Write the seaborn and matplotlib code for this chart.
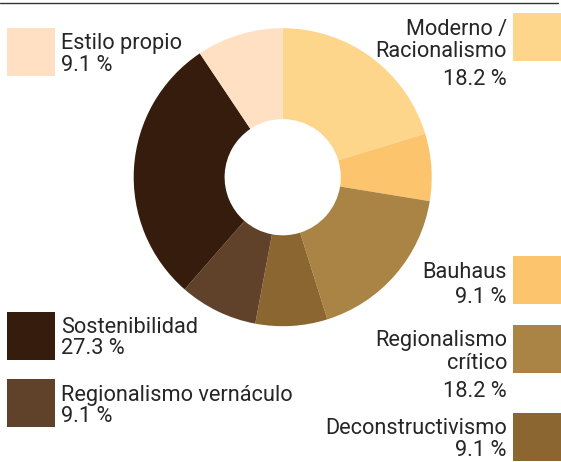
import matplotlib
matplotlib.use("Agg")
import matplotlib.pyplot as plt
import seaborn as sns
from matplotlib.patches import Rectangle
from matplotlib.lines import Line2D

# ---- data ----
categories = ["Moderno /\nRacionalismo", "Bauhaus", "Regionalismo\ncrítico",
              "Deconstructivismo", "Regionalismo vernáculo", "Sostenibilidad",
              "Estilo propio"]
slice_shares = [20.3, 7.3, 17.6, 7.8, 8.5, 29.2, 9.4]
pct_labels = ["18.2 %", "9.1 %", "18.2 %", "9.1 %", "9.1 %", "27.3 %", "9.1 %"]
colors = ["#FDD68C", "#FDC46E", "#A98445", "#8B6631", "#5F4229", "#361C0C", "#FFE0C2"]

sns.set_theme(style="white")
plt.rcParams["font.family"] = ["Roboto", "DejaVu Sans"]

W, H = 561, 462
fig = plt.figure(figsize=(W / 100, H / 100), dpi=100)
fig.patch.set_facecolor("white")


def fx(x):
    return x / W


def fy(y):
    return 1 - y / H


# donut
cx, cy, R = 282.7, 177.2, 149
ax = fig.add_axes([(cx - R) / W, 1 - (cy + R) / H, 2 * R / W, 2 * R / H])
palette = sns.color_palette(colors)
ax.pie(slice_shares, colors=palette, startangle=90, counterclock=False, radius=1,
       wedgeprops=dict(width=0.61, linewidth=0))
ax.set_xlim(-1, 1)
ax.set_ylim(-1, 1)
ax.axis("off")

# top rule
fig.add_artist(Line2D([fx(0), fx(558)], [fy(2.7), fy(2.7)], color="#333333",
                      lw=1.0, transform=fig.transFigure))

# legend layout: side, box top, label baselines, pct baseline
layout = [
    ("right", 12.7, [35, 57.3], 85),
    ("right", 256, [277.7], 303.3),
    ("right", 325, [346, 369.3], 396.7),
    ("right", 413.3, [433.5], 456),
    ("left", 379, [400.7], 422.3),
    ("left", 312.3, [333.3], 354.3),
    ("left", 28, [49.3], 70.7),
]
txt_color = "#262626"
fs = 15.7
box = 48
for cat, pct, col, (side, btop, bases, pbase) in zip(categories, pct_labels, palette, layout):
    if side == "right":
        bx, tx, ha = 512.7, 507, "right"
    else:
        bx, tx, ha = 7, 61, "left"
    fig.add_artist(Rectangle((fx(bx), fy(btop + box)), box / W, box / H,
                             transform=fig.transFigure, facecolor=col,
                             edgecolor="none"))
    for line, b in zip(cat.split("\n"), bases):
        fig.text(fx(tx), fy(b), line, ha=ha, va="baseline", fontsize=fs,
                 color=txt_color)
    fig.text(fx(tx), fy(pbase), pct, ha=ha, va="baseline", fontsize=fs,
             color=txt_color)

fig.savefig("out.png", dpi=100)
